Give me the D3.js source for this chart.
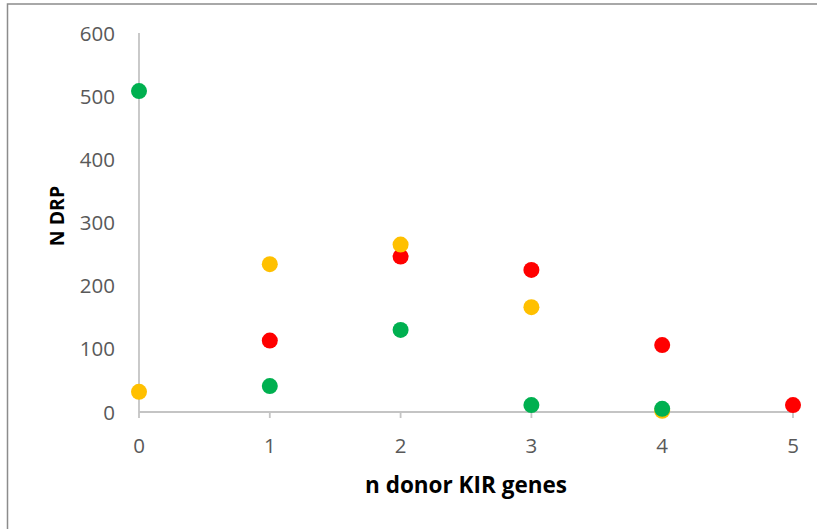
<!DOCTYPE html>
<html><head><meta charset="utf-8">
<script src="https://cdn.jsdelivr.net/npm/d3@7"></script>
<style>html,body{margin:0;padding:0;background:#fff;}svg{display:block;}</style>
</head><body>
<script>
const xTicks = [0, 1, 2, 3, 4, 5];
const yTicks = [0, 100, 200, 300, 400, 500, 600];
const redX = [1, 2, 3, 4, 5];
const redY = [113, 246, 225, 106, 11];
const orangeX = [0, 1, 2, 3, 4];
const orangeY = [32, 234, 265, 166, 2];
const greenX = [0, 1, 2, 3, 4];
const greenY = [508, 41, 130, 11, 5];
const series = [
  {name: "red", color: "#FF0000", xs: redX, ys: redY},
  {name: "orange", color: "#FFC000", xs: orangeX, ys: orangeY},
  {name: "green", color: "#00B050", xs: greenX, ys: greenY}
];

const W = 817, H = 529;
const svg = d3.select("body").append("svg").attr("width", W).attr("height", H);
svg.append("rect").attr("x", 7.5).attr("y", 4).attr("width", W).attr("height", H)
  .attr("fill", "#fff").attr("stroke", "#8c8c8c").attr("stroke-width", 1.5);

const x = d3.scaleLinear().domain([0, 5]).range([139, 793]);
const y = d3.scaleLinear().domain([0, 600]).range([412, 33]);
const font = "'Open Sans', sans-serif";

svg.append("line").attr("x1", x(0)).attr("x2", x(0)).attr("y1", y(600)).attr("y2", y(0))
  .attr("stroke", "#c4c4c4").attr("stroke-width", 1.8);
svg.append("line").attr("x1", x(0)).attr("x2", x(5)).attr("y1", y(0)).attr("y2", y(0))
  .attr("stroke", "#c4c4c4").attr("stroke-width", 2);
svg.selectAll(".xt").data(xTicks).enter().append("line")
  .attr("x1", d => x(d)).attr("x2", d => x(d)).attr("y1", y(0)).attr("y2", y(0) + 6)
  .attr("stroke", "#c4c4c4").attr("stroke-width", 1.8);

svg.selectAll(".xl").data(xTicks).enter().append("text")
  .attr("x", d => x(d)).attr("y", 452.5).attr("text-anchor", "middle")
  .attr("font-family", font).attr("font-size", 20.5).attr("fill", "#595959").text(d => d);
svg.selectAll(".yl").data(yTicks).enter().append("text")
  .attr("x", 115).attr("y", d => y(d) + 7.5).attr("text-anchor", "end")
  .attr("font-family", font).attr("font-size", 20.5).attr("fill", "#595959").text(d => d);

series.forEach(s => {
  svg.selectAll(".p-" + s.name).data(s.xs.map((v, i) => [v, s.ys[i]])).enter().append("circle")
    .attr("cx", d => x(d[0])).attr("cy", d => y(d[1])).attr("r", 8).attr("fill", s.color);
});

svg.append("text").attr("x", 466).attr("y", 493).attr("text-anchor", "middle")
  .attr("font-family", font).attr("font-weight", "bold").attr("font-size", 22.5)
  .attr("fill", "#000").text("n donor KIR genes");
svg.append("text").attr("transform", "translate(63.5,216) rotate(-90)").attr("text-anchor", "middle")
  .attr("font-family", font).attr("font-weight", "bold").attr("font-size", 19.5)
  .attr("fill", "#000").text("N DRP");
</script>
</body></html>
